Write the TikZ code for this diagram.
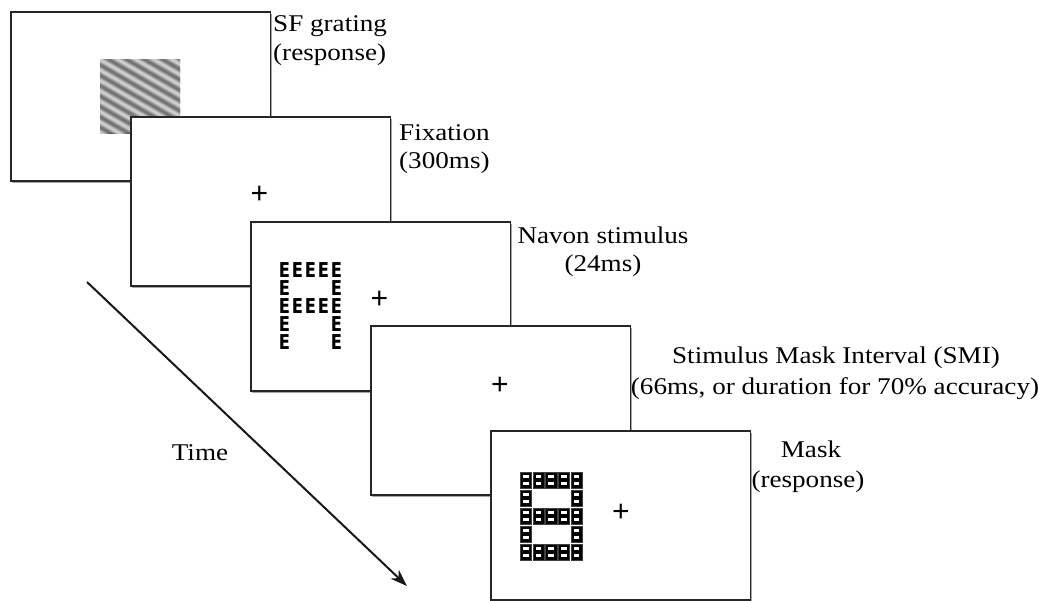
\documentclass[tikz,border=0pt]{standalone}
\usepackage{fontspec}
\setmainfont{Liberation Serif}
\newfontfamily\navfont{Liberation Sans}
\newfontfamily\efont{DejaVu Sans}
\usetikzlibrary{arrows.meta,shadows}
\newcommand{\wtext}[1]{\scalebox{1.13}[1]{#1}}
\newcommand{\navE}{\makebox[13pt]{\scalebox{0.8}[1]{E}}}
\newcommand{\navB}{\makebox[13pt]{}}
\tikzset{
  screen/.style={draw=black!85, line width=1.7pt, fill=white, minimum width=259.5pt, minimum height=169pt, anchor=north west, inner sep=0pt,
    drop shadow={shadow xshift=1.2pt, shadow yshift=-2pt, fill=gray!70, opacity=1}},
  lbl/.style={font=\fontsize{24}{29}\selectfont, inner sep=0pt},
  fix/.style={font=\navfont\fontsize{30}{30}\selectfont, inner sep=0pt},
  navon/.style={font=\efont\bfseries\fontsize{20.5}{18}\selectfont, inner sep=0pt, align=left},
  mcell/.style={fill=black, minimum width=11.2pt, minimum height=16pt, inner sep=0pt, draw=black!75, line width=0.6pt}
}
\begin{document}
\begin{tikzpicture}[x=1pt,y=-1pt]
\useasboundingbox (0,0) rectangle (1039,600);
\fill[white] (0,0) rectangle (1039,600);

% screen 1 with grating
\node[screen] (s1) at (10,11) {};
\begin{scope}
  \clip (100,59) rectangle (180,133);
  \fill[black!50] (100,59) rectangle (180,133);
  \foreach \i in {-70,...,70} {
    \pgfmathtruncatemacro\g{52+28*sin(\i*40)}
    \draw[black!\g, line width=1.3pt] ({140-0.5*\i-90},{96+0.866*\i-52}) -- ({140-0.5*\i+90},{96+0.866*\i+52});
  }
  \foreach \i in {-70,...,70} {
    \draw[white, opacity=0.12, line width=1.3pt] ({140+0.866*\i-60},{96+0.5*\i+104}) -- ({140+0.866*\i+60},{96+0.5*\i-104});
  }
\end{scope}
\fill[white, opacity=0.15] (100,59) rectangle (180,133);

% screen 2 fixation
\node[screen] (s2) at (130,116) {};
\node[fix] (p2) at (259.5,195) {+};

% screen 3 Navon
\node[screen] (s3) at (250,221) {};
\node[navon] (nav) at (310.5,306) {\navE\navE\navE\navE\navE\\
\navE\navB\navB\navB\navE\\
\navE\navE\navE\navE\navE\\
\navE\navB\navB\navB\navE\\
\navE\navB\navB\navB\navE};
\node[fix] (p3) at (379.5,300) {+};

% screen 4 SMI
\node[screen] (s4) at (370,325) {};
\node[fix] (p4) at (500,386) {+};

% screen 5 mask
\node[screen] (s5) at (490,430) {};
\foreach \r/\cols in {0/{0,1,2,3,4},1/{0,4},2/{0,1,2,3,4},3/{0,4},4/{0,1,2,3,4}} {
  \foreach \c in \cols {
    \node[mcell] (m\r\c) at ({526+12.6*\c},{480+18*\r}) {};
    \fill[white] ({526+12.6*\c-2.8},{480+18*\r-5}) rectangle ({526+12.6*\c+2.8},{480+18*\r-2.4});
    \fill[white] ({526+12.6*\c-2.8},{480+18*\r+2.2}) rectangle ({526+12.6*\c+2.8},{480+18*\r+4.8});
  }
}
\node[fix] (p5) at (621,513) {+};

% labels
\node[lbl, anchor=base west] (l1a) at (273,31) {\wtext{SF grating}};
\node[lbl, anchor=base west] (l1b) at (273,60) {\wtext{(response)}};
\node[lbl, anchor=base west] (l2a) at (399,140) {\wtext{Fixation}};
\node[lbl, anchor=base west] (l2b) at (399,168) {\wtext{(300ms)}};
\node[lbl, anchor=base] (l3a) at (603,243) {\wtext{Navon stimulus}};
\node[lbl, anchor=base] (l3b) at (603,271) {\wtext{(24ms)}};
\node[lbl, anchor=base] (l4a) at (836,363) {\wtext{Stimulus Mask Interval (SMI)}};
\node[lbl, anchor=base] (l4b) at (835,394) {\wtext{(66ms, or duration for 70\% accuracy)}};
\node[lbl, anchor=base] (l5a) at (811,457) {\wtext{Mask}};
\node[lbl, anchor=base] (l5b) at (808,487) {\wtext{(response)}};
\node[lbl, anchor=base] (tl) at (200,460) {\wtext{Time}};

% time arrow
\coordinate (t0) at (87,282);
\coordinate (t1) at (407,586);
\draw[line width=2pt, black!90, -{Stealth[length=17pt,width=12pt]}] (t0) -- (t1);
\end{tikzpicture}
\end{document}
